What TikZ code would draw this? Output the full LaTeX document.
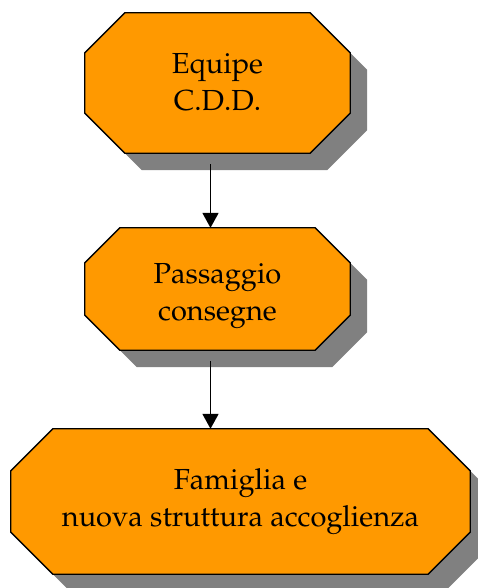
\documentclass[tikz,border=0pt]{standalone}
\usepackage[T1]{fontenc}
\usepackage{mathpazo}
\usepackage{xcolor}
\usepackage{tikz}
\usetikzlibrary{arrows.meta}
\definecolor{boxorange}{HTML}{FF9900}
\definecolor{shadowgray}{HTML}{808080}
\pgfdeclarelayer{background}
\pgfsetlayers{background,main}
% octagon round node #1, corner cut #2, offset #3,#4
\newcommand\octpath[4]{([xshift=#2+#3,yshift=#4]#1.north west) -- ([xshift=-#2+#3,yshift=#4]#1.north east)
	-- ([xshift=#3,yshift=-#2+#4]#1.north east) -- ([xshift=#3,yshift=#2+#4]#1.south east)
	-- ([xshift=-#2+#3,yshift=#4]#1.south east) -- ([xshift=#2+#3,yshift=#4]#1.south west)
	-- ([xshift=#3,yshift=#2+#4]#1.south west) -- ([xshift=#3,yshift=-#2+#4]#1.north west) -- cycle}
\newcommand\octbox[2]{%
	\begin{pgfonlayer}{background}
	\fill[shadowgray] \octpath{#1}{#2}{17pt}{-17pt};
	\draw[octline] \octpath{#1}{#2}{0pt}{0pt};
	\end{pgfonlayer}}
\tikzstyle{octframe}=[rectangle,inner sep=0pt]
\tikzstyle{octtext}=[align=center,inner sep=0pt,font=\fontsize{29}{37}\selectfont]
\tikzstyle{octline}=[line width=1.3pt,fill=boxorange,line join=miter]
\tikzstyle{flow}=[line width=1.8pt,-{Triangle[length=15pt,width=16pt]}]

\begin{document}
\begin{tikzpicture}[x=1pt,y=-1pt]
	\useasboundingbox (0,0) rectangle (477,588);
	\node[octframe,minimum width=265pt,minimum height=140pt] (equipe)   at (217.5,83)    {};
	\node[octframe,minimum width=265pt,minimum height=122pt] (consegne) at (217.5,289)   {};
	\node[octframe,minimum width=459pt,minimum height=145pt] (famiglia) at (240.5,501.5) {};
	\octbox{equipe}{40pt}
	\octbox{consegne}{35pt}
	\octbox{famiglia}{42pt}
	\node[octtext] (equipetxt)   at ([yshift=1pt]equipe.center)   {Equipe\\C.D.D.};
	\node[octtext] (consegnetxt) at ([yshift=-7pt]consegne.center) {Passaggio\\consegne};
	\node[octtext] (famigliatxt) at (famiglia.center)              {Famiglia e\\nuova struttura accoglienza};
	\draw[flow,shorten <=11pt] ([xshift=-7pt]equipe.south) -- ([xshift=-7pt]consegne.north);
	\draw[flow,shorten <=11pt] ([xshift=-7pt]consegne.south) -- ([xshift=-30pt]famiglia.north);
\end{tikzpicture}
\end{document}
